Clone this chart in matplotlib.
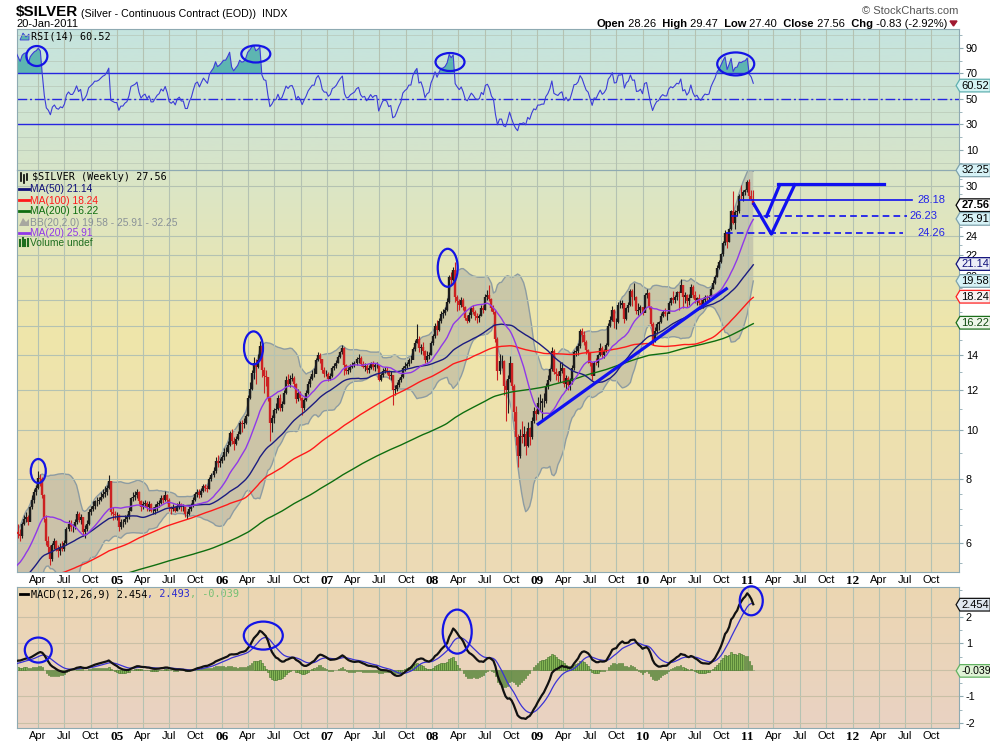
import matplotlib
matplotlib.use("Agg")
import matplotlib.pyplot as plt
import matplotlib.dates as mdates
from matplotlib.colors import LinearSegmentedColormap
from matplotlib.lines import Line2D
from matplotlib.patches import Ellipse, Polygon
from matplotlib.path import Path
from matplotlib.transforms import ScaledTranslation
import numpy as np
import pandas as pd

plt.rcParams['font.family'] = ['Liberation Sans', 'DejaVu Sans']

# weekly closes before the visible window, only used to warm up the averages
warmup_close = [
    5.05, 5.10, 5.05, 5.00, 5.05, 5.05, 5.00, 4.95, 4.95, 5.00, 5.05, 4.95, 4.95, 5.00, 5.05, 5.00, 5.05, 5.05,
    5.00, 5.00, 4.95, 4.90, 4.90, 4.95, 4.90, 4.95, 4.95, 4.90, 4.95, 4.90, 4.90, 4.85, 4.85, 4.80, 4.75, 4.75,
    4.70, 4.70, 4.70, 4.65, 4.65, 4.60, 4.60, 4.60,
    4.60, 4.65, 4.60, 4.55, 4.55, 4.50, 4.45, 4.45, 4.40, 4.40, 4.35, 4.30, 4.35, 4.35, 4.35, 4.40, 4.35, 4.45,
    4.45, 4.40, 4.40, 4.35, 4.35, 4.35, 4.30, 4.30, 4.25, 4.25, 4.20, 4.25, 4.20, 4.15, 4.20, 4.25, 4.20, 4.25,
    4.45, 4.40, 4.35, 4.30, 4.20, 4.20, 4.20, 4.15, 4.10, 4.05, 4.10, 4.15, 4.35, 4.55, 4.50, 4.55,
    4.50, 4.45, 4.40, 4.40, 4.35, 4.40, 4.45, 4.45, 4.55, 4.55, 4.60, 4.55, 4.55, 4.55, 4.60, 4.60, 4.55, 4.65,
    4.70, 4.80, 4.90, 4.95, 5.00, 4.95, 4.85, 4.90, 5.05, 5.00, 4.95, 4.70, 4.60, 4.50, 4.55, 4.55, 4.55, 4.55,
    4.50, 4.60, 4.55, 4.45, 4.40, 4.35, 4.35, 4.50, 4.55, 4.55, 4.55, 4.55, 4.65, 4.65, 4.70, 4.75,
    4.80, 4.90, 4.85, 4.85, 4.85, 4.75, 4.65, 4.60, 4.55, 4.50, 4.50, 4.40, 4.40, 4.50, 4.55, 4.55, 4.60, 4.65,
    4.75, 4.80, 4.80, 4.55, 4.50, 4.55, 4.55, 4.55, 4.75, 4.90, 5.05, 5.05, 5.05, 5.00, 5.05, 5.10, 5.10, 5.15,
    5.20, 5.15, 5.15, 4.95, 4.95, 5.00, 5.05, 5.10, 5.10, 5.20, 5.25, 5.30, 5.50, 5.65, 5.85, 5.95,
    5.95, 6.35, 6.30,
]

# visible weekly bars, first week ending 2004-01-23
week_close = [
    # 2004
    6.25, 6.20, 6.55, 6.70, 6.75, 6.60, 7.05, 7.30, 7.55, 7.70, 8.05, 8.00, 7.45, 6.70, 6.05,
    5.90, 5.60, 5.95, 6.05, 5.85, 5.80, 5.90, 5.85, 6.00, 6.40, 6.55, 6.45, 6.45, 6.60, 6.85, 6.65, 6.75,
    6.30, 6.40, 6.55, 6.90, 7.00, 7.10, 7.25, 7.25, 7.30, 7.40, 7.50, 7.55, 7.70, 7.95, 6.90, 6.85, 6.80, 6.80,
    # 2005
    6.45, 6.60, 6.60, 6.70, 6.75, 6.95, 7.35, 7.40, 7.45, 7.55, 7.25, 7.05, 7.15, 7.20, 7.05, 7.15, 6.95,
    6.95, 7.05, 7.15, 7.20, 7.35, 7.30, 7.45, 7.30, 7.05, 7.00, 7.05, 6.95, 7.10, 7.15, 7.05, 7.05, 6.85,
    6.85, 7.00, 7.10, 7.30, 7.50, 7.55, 7.45, 7.60, 7.75, 7.70, 7.65, 8.00, 8.15, 8.30, 8.70, 8.60, 8.70, 8.85,
    # 2006
    9.05, 9.05, 9.35, 9.85, 9.50, 9.40, 9.60, 9.80, 10.30, 10.25, 10.30, 10.65, 11.55, 12.05, 12.95, 13.50, 13.30,
    13.70, 14.60, 13.10, 12.75, 12.70, 11.55, 10.30, 10.55, 10.95, 11.00, 11.55, 11.05, 11.25,
    11.80, 12.50, 12.30, 12.60, 12.65, 12.30, 11.50, 11.80, 11.55, 11.05, 11.45, 11.80, 12.30,
    12.60, 12.90, 12.90, 13.70, 14.05, 13.75, 13.10, 12.90, 12.90,
    # 2007
    12.60, 12.75, 13.25, 13.35, 13.55, 13.90, 14.20, 14.45, 13.40, 13.05, 13.10, 13.30, 13.40,
    13.50, 13.75, 13.85, 13.45, 13.30, 13.35, 13.10, 13.25, 13.45, 13.30, 13.40, 13.40, 12.55,
    12.80, 13.05, 13.10, 13.05, 12.75, 12.80, 12.00, 12.05, 12.25, 12.50, 12.70, 13.20, 13.35,
    13.45, 13.70, 13.70, 14.40, 14.80, 15.10, 14.45, 14.55, 14.25, 13.70, 13.95, 14.05, 14.80,
    # 2008
    15.25, 16.00, 15.70, 16.35, 16.90, 16.95, 17.20, 17.80, 19.90, 19.70, 20.60, 18.20, 17.85,
    17.55, 17.95, 17.40, 16.55, 16.35, 16.80, 17.30, 17.05, 16.70, 16.60, 16.70, 17.35, 17.15,
    18.25, 18.40, 18.05, 17.35, 17.05, 15.10, 13.05, 13.65, 13.65, 12.20, 11.95, 12.60, 13.50,
    12.20, 10.85, 9.70, 8.90, 9.75, 9.70, 9.80, 9.30, 10.10, 9.70, 10.40, 10.90, 10.75,
    # 2009
    11.30, 11.30, 11.40, 11.40, 12.20, 12.55, 13.15, 14.30, 13.00, 12.85, 12.75, 13.05, 13.20,
    12.30, 12.65, 12.25, 12.45, 13.20, 14.20, 14.25, 14.60, 15.60, 15.35, 14.85, 14.35, 14.15,
    13.50, 12.75, 13.55, 13.50, 14.00, 14.45, 14.05, 14.25, 14.65, 16.00, 16.45, 17.15, 16.25,
    16.30, 17.60, 17.60, 17.70, 16.50, 17.30, 17.60, 18.70, 18.20, 18.25, 17.10, 17.15, 17.40,
    # 2010
    16.95, 18.40, 18.55, 17.45, 16.15, 14.95, 15.60, 16.10, 16.25, 16.75, 17.05, 16.90, 16.90,
    17.75, 18.10, 18.00, 18.25, 18.60, 18.55, 19.20, 18.20, 18.35, 17.85, 18.15, 19.05, 18.35,
    17.95, 18.10, 17.75, 17.60, 17.95, 18.20, 18.15, 18.20, 18.90, 19.40, 19.90, 20.80, 21.30,
    22.10, 23.20, 24.35, 23.35, 24.70, 26.85, 25.45, 26.70, 26.90, 28.75, 28.70, 29.25, 29.45, 30.60,
    # 2011
    28.75, 28.39, 27.56,
]

week_high = [
    6.55, 6.40, 6.60, 6.80, 6.90, 6.80, 7.10, 7.45, 7.65, 7.80, 8.30, 8.20, 8.10, 7.50, 6.80,
    6.20, 5.95, 6.00, 6.15, 6.10, 5.95, 6.00, 6.05, 6.10, 6.45, 6.65, 6.65, 6.55, 6.70, 6.95, 6.90, 6.85,
    6.75, 6.50, 6.65, 7.00, 7.10, 7.25, 7.30, 7.40, 7.40, 7.55, 7.65, 7.75, 7.80, 8.15, 7.95, 7.05, 6.95, 6.90,
    6.85, 6.70, 6.70, 6.80, 6.85, 7.05, 7.40, 7.55, 7.60, 7.65, 7.60, 7.30, 7.25, 7.30, 7.25, 7.25, 7.20,
    7.05, 7.15, 7.25, 7.30, 7.45, 7.45, 7.60, 7.50, 7.35, 7.10, 7.15, 7.10, 7.20, 7.25, 7.20, 7.15, 7.05,
    6.95, 7.10, 7.20, 7.40, 7.55, 7.65, 7.65, 7.70, 7.85, 7.85, 7.80, 8.10, 8.25, 8.45, 8.85, 8.95, 8.80, 8.95,
    9.20, 9.25, 9.50, 9.95, 10.05, 9.70, 9.75, 9.95, 10.40, 10.45, 10.55, 10.75, 11.70, 12.40, 13.10, 13.90, 13.80,
    14.10, 14.95, 14.60, 13.30, 13.10, 12.70, 11.60, 10.70, 11.05, 11.30, 11.70, 11.75, 11.40,
    11.95, 12.75, 12.90, 12.80, 12.95, 12.75, 12.35, 12.05, 11.90, 11.60, 11.55, 11.95, 12.45,
    12.75, 13.10, 13.25, 13.85, 14.20, 14.15, 13.80, 13.30, 13.10,
    13.00, 12.95, 13.35, 13.50, 13.70, 14.05, 14.30, 14.65, 14.55, 13.45, 13.30, 13.45, 13.60,
    13.65, 13.90, 14.10, 13.95, 13.65, 13.50, 13.45, 13.40, 13.60, 13.65, 13.55, 13.60, 13.40,
    12.95, 13.20, 13.30, 13.30, 13.10, 13.05, 12.80, 12.25, 12.40, 12.65, 12.90, 13.35, 13.60,
    13.60, 13.85, 14.00, 14.55, 15.00, 16.10, 15.30, 14.75, 14.90, 14.35, 14.30, 14.20, 14.95,
    15.40, 16.20, 16.40, 16.55, 17.10, 17.25, 17.40, 18.10, 20.10, 20.35, 20.85, 21.35, 18.40,
    18.05, 18.20, 18.10, 17.50, 16.80, 17.00, 17.45, 17.55, 17.15, 16.95, 16.90, 17.55, 17.60,
    18.50, 18.80, 19.25, 18.15, 17.60, 17.15, 15.20, 14.10, 14.00, 13.70, 12.50, 12.80, 13.95,
    13.55, 12.30, 11.15, 9.80, 10.05, 10.40, 10.20, 9.95, 10.35, 10.15, 10.60, 11.10, 11.00,
    11.60, 11.75, 11.55, 11.80, 12.35, 12.80, 13.25, 14.55, 14.40, 13.25, 13.05, 13.60, 13.60,
    13.20, 12.80, 12.75, 12.65, 13.40, 14.35, 14.60, 14.80, 15.75, 15.85, 15.60, 15.00, 14.40,
    14.20, 13.55, 13.65, 13.85, 14.10, 14.80, 14.60, 14.40, 14.80, 16.20, 16.70, 17.50, 17.25,
    16.55, 17.80, 18.00, 18.00, 17.75, 17.45, 17.80, 18.85, 18.90, 19.40, 18.30, 17.75, 17.55,
    17.45, 18.55, 18.85, 18.60, 17.50, 16.30, 15.90, 16.30, 16.35, 16.95, 17.20, 17.30, 17.05,
    17.90, 18.25, 18.70, 18.40, 18.75, 18.70, 19.80, 19.25, 18.60, 18.45, 18.45, 19.30, 19.20,
    18.70, 18.25, 18.45, 18.05, 18.10, 18.40, 18.35, 18.40, 19.05, 19.70, 20.10, 21.00, 21.50,
    22.25, 23.40, 24.60, 24.45, 24.90, 27.00, 29.35, 27.00, 27.60, 28.95, 30.20, 29.45, 29.70, 30.90,
    31.00, 29.45, 29.47,
]

week_low = [
    6.15, 6.05, 6.15, 6.50, 6.60, 6.50, 6.65, 7.00, 7.20, 7.45, 7.65, 7.75, 7.35, 6.60, 5.95,
    5.75, 5.45, 5.55, 5.85, 5.80, 5.65, 5.70, 5.80, 5.80, 5.95, 6.35, 6.35, 6.30, 6.40, 6.55, 6.60, 6.55,
    6.20, 6.15, 6.35, 6.50, 6.80, 6.95, 7.00, 7.10, 7.15, 7.25, 7.35, 7.40, 7.45, 7.65, 6.80, 6.65, 6.70, 6.65,
    6.35, 6.40, 6.45, 6.55, 6.60, 6.70, 6.95, 7.25, 7.30, 7.35, 7.15, 6.95, 7.00, 7.05, 6.95, 6.95, 6.90,
    6.85, 6.85, 6.95, 7.05, 7.15, 7.20, 7.25, 7.20, 6.95, 6.85, 6.95, 6.90, 6.95, 7.00, 6.95, 6.95, 6.75,
    6.70, 6.80, 6.95, 7.05, 7.25, 7.40, 7.35, 7.40, 7.55, 7.60, 7.55, 7.65, 7.95, 8.10, 8.25, 8.45, 8.45, 8.60,
    8.75, 8.90, 9.00, 9.30, 9.40, 9.15, 9.35, 9.55, 9.80, 9.90, 10.10, 10.25, 10.65, 11.50, 12.00, 12.60, 12.30,
    13.20, 13.80, 12.70, 11.80, 12.20, 11.40, 9.50, 9.90, 10.30, 10.80, 10.95, 10.90, 10.90,
    11.25, 11.75, 12.20, 12.15, 12.45, 12.10, 11.30, 11.40, 11.45, 10.70, 10.95, 11.40, 11.75,
    12.15, 12.55, 12.70, 12.95, 13.65, 13.55, 12.95, 12.70, 12.75,
    12.45, 12.50, 12.70, 13.10, 13.25, 13.50, 13.85, 14.10, 12.80, 12.85, 12.85, 13.00, 13.20,
    13.30, 13.40, 13.55, 13.35, 13.20, 13.05, 12.95, 12.95, 13.15, 13.10, 13.05, 13.20, 12.45,
    12.45, 12.70, 12.95, 12.85, 12.60, 12.55, 11.20, 11.70, 11.90, 12.15, 12.40, 12.65, 13.05,
    13.20, 13.35, 13.50, 13.75, 14.30, 14.80, 14.20, 14.10, 14.05, 13.55, 13.60, 13.75, 14.05,
    14.70, 15.15, 15.35, 15.60, 16.20, 16.55, 16.80, 17.10, 17.75, 19.20, 19.60, 17.80, 17.10,
    17.20, 17.40, 17.20, 16.40, 16.20, 16.25, 16.60, 16.90, 16.45, 16.20, 16.30, 16.70, 16.95,
    17.20, 17.95, 17.85, 17.10, 16.85, 14.90, 12.50, 12.85, 13.25, 11.70, 10.40, 10.80, 12.40,
    11.95, 10.40, 9.35, 8.45, 8.80, 9.45, 9.30, 8.95, 9.25, 9.35, 9.60, 10.30, 10.45,
    10.75, 10.90, 10.45, 11.10, 11.30, 12.05, 12.45, 13.05, 12.85, 12.55, 12.40, 12.40, 12.95,
    12.15, 12.00, 11.95, 12.00, 12.30, 13.10, 13.95, 14.00, 14.50, 14.90, 14.70, 14.10, 13.55,
    13.35, 12.50, 12.80, 13.40, 13.30, 13.95, 13.85, 13.85, 14.20, 14.60, 15.90, 16.35, 15.85,
    15.80, 16.20, 17.35, 17.35, 16.20, 16.40, 17.00, 17.50, 17.50, 18.00, 16.90, 16.80, 16.95,
    16.80, 17.00, 18.10, 17.25, 16.00, 14.65, 14.85, 15.40, 15.70, 16.20, 16.65, 16.75, 16.45,
    16.95, 17.60, 17.75, 17.70, 18.00, 17.20, 18.65, 17.30, 17.70, 17.40, 17.60, 18.20, 18.10,
    17.75, 17.60, 17.55, 17.35, 17.35, 17.80, 17.75, 17.85, 18.30, 18.90, 19.35, 19.90, 20.65,
    21.20, 21.95, 23.05, 22.70, 23.30, 24.60, 25.30, 24.80, 26.30, 26.60, 28.40, 28.10, 28.90, 29.30,
    28.30, 28.20, 27.40,
]

# quarter labels along the time axis
quarter_starts = pd.date_range('2004-04-01', '2012-10-01', freq='QS')

# hand drawn marks of the analyst: (date, value, width px, height px)
rsi_rings = [('2004-03-28', 83.7, 21, 20), ('2006-04-28', 85.3, 29, 17),
             ('2008-03-03', 79.0, 29, 18), ('2010-11-21', 77.5, 37, 23)]
price_rings = [('2004-04-02', 8.31, 15, 24), ('2006-04-20', 14.48, 19, 33), ('2008-02-24', 20.78, 20, 38)]
macd_rings = [('2004-04-02', 0.745, 27, 25), ('2006-05-24', 1.29, 39, 28),
              ('2008-03-28', 1.44, 29, 44), ('2011-01-14', 2.60, 23, 29)]
trend_dates = ['2008-12-30', '2010-10-24']
trend_values = [10.23, 18.98]
path_a_dates = ['2011-01-23', '2011-03-25', '2011-06-14']
path_a_values = [27.70, 24.19, 30.22]
path_b_dates = ['2011-03-08', '2011-04-23']
path_b_values = [26.19, 30.22]
top_dates = ['2011-04-16', '2012-04-19']
top_values = [30.3, 30.3]
levels = [(28.18, '2010-12-05', '2012-07-25', '-', '2012-08-12'),
          (26.23, '2010-11-05', '2012-07-08', '--', '2012-07-18'),
          (24.26, '2010-10-19', '2012-06-24', '--', '2012-08-12')]

# ------------------------------------------------------------------ indicators
closes = pd.Series(warmup_close + week_close, dtype=float)
n_warm = len(warmup_close)
dates = list(pd.date_range(end='2004-01-16', periods=n_warm, freq='W-FRI')) + \
    list(pd.date_range('2004-01-23', periods=len(week_close), freq='W-FRI'))
xs = mdates.date2num(pd.DatetimeIndex(dates).to_pydatetime())

ma20 = closes.rolling(20).mean()
ma50 = closes.rolling(50).mean()
ma100 = closes.rolling(100).mean()
ma200 = closes.rolling(200).mean()
sd20 = closes.rolling(20).std(ddof=0)
bb_up = ma20 + 2 * sd20
bb_lo = ma20 - 2 * sd20

delta = closes.diff()
gain = delta.clip(lower=0).ewm(alpha=1 / 14, adjust=False).mean()
loss = (-delta.clip(upper=0)).ewm(alpha=1 / 14, adjust=False).mean()
rsi = 100 - 100 / (1 + gain / loss)

macd = closes.ewm(span=12, adjust=False).mean() - closes.ewm(span=26, adjust=False).mean()
signal = macd.ewm(span=9, adjust=False).mean()
hist = macd - signal

# ------------------------------------------------------------------ figure
W, H = 990, 744
fig = plt.figure(figsize=(9.9, 7.44), dpi=100)


def fx(px):
    return px / W


def fy(py):
    return 1 - py / H


def panel(l, t, r, b, colors):
    rect = [l / W, 1 - b / H, (r - l) / W, (b - t) / H]
    bg = fig.add_axes(rect, zorder=0)
    bg.imshow(np.linspace(0, 1, 256).reshape(-1, 1), aspect='auto',
              cmap=LinearSegmentedColormap.from_list('', colors), extent=[0, 1, 0, 1])
    bg.axis('off')
    a = fig.add_axes(rect, zorder=1)
    a.set_facecolor('none')
    for s in a.spines.values():
        s.set_color('#8eaab2')
    return a


ax_rsi = panel(17, 29, 959, 170, [(0, '#c5e4df'), (1, '#d7e4c9')])
ax = panel(17, 170, 959, 572, [(0, '#d9e5c8'), (0.4, '#efe6aa'), (1, '#ecdab6')])
ax_macd = panel(17, 587, 959, 728, [(0, '#ecd7b2'), (1, '#e9d2c3')])

x_left = mdates.date2num(pd.Timestamp('2004-01-19'))
x_right = mdates.date2num(pd.Timestamp('2013-01-05'))
qx = mdates.date2num(quarter_starts.to_pydatetime())
qlab = [f"{d.year % 100:02d}" if d.month == 1 else d.strftime('%b') for d in quarter_starts]
grid_col = '#b4c2b2'

for a in (ax_rsi, ax, ax_macd):
    a.set_xlim(x_left, x_right)
    a.set_xticks(qx, qlab)
    a.yaxis.tick_right()
    a.tick_params(axis='x', length=0, pad=2, labelsize=8)
    a.tick_params(axis='y', which='both', direction='out', colors='#8eaab2',
                  labelcolor='black', labelsize=7.8, pad=2)
    a.tick_params(axis='y', which='major', length=3)
    a.tick_params(axis='y', which='minor', length=2)
    a.grid(True, axis='x', color=grid_col, lw=0.8)
    for lbl in a.get_xticklabels():
        if lbl.get_text().isdigit():
            lbl.set_fontfamily('Liberation Serif')
            lbl.set_fontweight('bold')
            lbl.set_fontsize(9.5)
ax_rsi.tick_params(axis='x', labelbottom=False)


def ring(a, when, value, w, h):
    tr = fig.dpi_scale_trans + ScaledTranslation(mdates.date2num(pd.Timestamp(when)), value, a.transData)
    a.add_artist(Ellipse((0, 0), w / 100, h / 100, transform=tr, fill=False,
                         ec='#1414e6', lw=1.6, clip_on=False, zorder=8))


def tag_shape(x0, y0, width, height, mutation_size):
    pad = 0.12 * mutation_size
    x0, y0 = x0 - pad, y0 - pad
    x1, y1 = x0 + width + 2 * pad, y0 + height + 2 * pad
    tip = x0 - 0.3 * (y1 - y0)
    ym = 0.5 * (y0 + y1)
    return Path([(tip, ym), (x0, y1), (x1, y1), (x1, y0), (x0, y0), (tip, ym)], closed=True)


def tag(a, value, text, fc, ec, tc='black', bold=False, size=8):
    a.annotate(text, xy=(1, value), xycoords=('axes fraction', 'data'), xytext=(1.6, 0),
               textcoords='offset points', va='center', ha='left', fontsize=size, color=tc,
               fontweight='bold' if bold else 'normal', annotation_clip=False, zorder=9,
               bbox=dict(boxstyle=tag_shape, fc=fc, ec=ec, lw=0.9))


# ------------------------------------------------------------------ RSI panel
ax_rsi.set_ylim(-5.7, 104.9)
ax_rsi.set_yticks([10, 30, 50, 70, 90], ['10', '30', '50', '70', '90'])
ax_rsi.set_yticks([0, 20, 40, 60, 80, 100], minor=True)
ax_rsi.grid(True, axis='y', which='both', color=grid_col, lw=0.6, alpha=0.7)
ax_rsi.fill_between(xs, 70, rsi, where=rsi >= 70, interpolate=True, color='#5db5b1', lw=0, zorder=2)
ax_rsi.plot(xs, rsi, color='#3c3cd8', lw=0.8, zorder=3)
ax_rsi.axhline(70, color='#2626e0', lw=1.0, zorder=2)
ax_rsi.axhline(30, color='#2626e0', lw=1.0, zorder=2)
ax_rsi.axhline(50, color='#2626e0', lw=1.0, ls=(0, (7, 2, 1.5, 2)), zorder=2)
for r in rsi_rings:
    ring(ax_rsi, *r)
tag(ax_rsi, 60.52, '60.52', '#d4f3f3', '#5fb0b0')

# ------------------------------------------------------------------ price panel
ax.set_yscale('log')
ax.set_ylim(5.27, 32.3)
major = [6, 8, 10, 12, 14, 16, 18, 20, 22, 24, 30]
hidden_by_tags = (16, 18)
ax.set_yticks(major, ['' if v in hidden_by_tags else str(v) for v in major])
ax.set_yticks([5.5, 6.5, 7, 7.5, 9, 11, 13, 15, 17, 19, 21, 23, 25, 26, 27, 28, 29, 31, 32],
              minor=True)
ax.yaxis.set_minor_formatter(plt.NullFormatter())
ax.grid(True, axis='y', which='major', color=grid_col, lw=0.8)

ax.fill_between(xs, bb_lo, bb_up, color='#a4a49e', alpha=0.45, lw=0, zorder=1)
ax.plot(xs, bb_up, color='#8d9ca2', lw=1.0, zorder=1.5)
ax.plot(xs, bb_lo, color='#8d9ca2', lw=1.0, zorder=1.5)

opens = closes.shift(1)
down = (closes < opens).to_numpy()
cols = np.where(down, '#cc2222', '#1c1c1c')
lows = np.r_[np.full(n_warm, np.nan), week_low]
highs = np.r_[np.full(n_warm, np.nan), week_high]
ax.vlines(xs, lows, highs, colors=cols, lw=0.8, zorder=3)
ax.vlines(xs, np.minimum(opens, closes), np.maximum(opens, closes), colors=cols, lw=1.7, zorder=3)

ax.plot(xs, ma200, color='#0f6e0f', lw=1.0, zorder=4)
ax.plot(xs, ma100, color='#ff1a1a', lw=1.0, zorder=4)
ax.plot(xs, ma50, color='#1c1c80', lw=1.0, zorder=4)
ax.plot(xs, ma20, color='#9038e8', lw=1.0, zorder=4)

blue = '#1010f0'
ax.plot(mdates.date2num(pd.to_datetime(trend_dates)), trend_values, color=blue, lw=2.3,
        solid_capstyle='butt', zorder=6)
for dts, vals in ((path_a_dates, path_a_values), (path_b_dates, path_b_values), (top_dates, top_values)):
    ax.plot(mdates.date2num(pd.to_datetime(dts)), vals, color=blue, lw=2.3, zorder=6, clip_on=False)
for value, start, end, style, text_at in levels:
    ax.plot(mdates.date2num(pd.to_datetime([start, end])), [value, value], color=blue,
            lw=1.2, ls=style if style == '-' else (0, (4, 2.5)), zorder=6)
    ax.text(mdates.date2num(pd.Timestamp(text_at)), value, f'{value:.2f}', color='#2323e8',
            fontsize=8, va='center', ha='left', zorder=6)
for r in price_rings:
    ring(ax, *r)

tag(ax, 32.25, '32.25', '#d6f2f6', '#7ea2ac')
tag(ax, 27.56, '27.56', 'white', 'black', bold=True)
tag(ax, 25.91, '25.91', '#d6f2f6', '#7ea2ac')
tag(ax, 21.14, '21.14', '#eceef8', '#10107a', tc='#10107a')
tag(ax, 19.58, '19.58', '#d6f2f6', '#7ea2ac')
tag(ax, 18.24, '18.24', '#f8f0f0', '#ff2020')
tag(ax, 16.22, '16.22', '#eef6ea', '#1a6e1a', tc='#124a12')

# ------------------------------------------------------------------ MACD panel
ax_macd.set_ylim(-2.19, 3.12)
ax_macd.set_yticks([-2, -1, 0, 1, 2], ['-2', '-1', '', '1', '2'])
ax_macd.set_yticks([-1.5, -0.5, 0.5, 1.5, 2.5, 3], minor=True)
ax_macd.grid(True, axis='y', which='major', color='#c9c0a6', lw=0.8)
ax_macd.bar(xs, hist, width=5, color='#84b454', edgecolor='#3f6f27', lw=0.4, zorder=2)
ax_macd.plot(xs, signal, color='#3a32d6', lw=0.9, zorder=3)
ax_macd.plot(xs, macd, color='#111111', lw=1.6, zorder=4)
for r in macd_rings:
    ring(ax_macd, *r)
tag(ax_macd, 2.454, '2.454', '#dfe7ef', '#111111')
tag(ax_macd, -0.039, '-0.039', '#dff3d6', '#62b262', size=7.6)

# ------------------------------------------------------------------ texts


def chain(x_px, y_px, pieces):
    first_s, first_kw = pieces[0]
    prev = fig.text(fx(x_px), fy(y_px), first_s, va='baseline', ha='left', **first_kw)
    for s, kw in pieces[1:]:
        prev = ax_rsi.annotate(s, xy=(1, 0), xycoords=prev, va='bottom', ha='left',
                               annotation_clip=False, **kw)
    return prev


chain(16, 16, [('$SILVER', dict(fontsize=11, fontweight='bold')),
               (' (Silver - Continuous Contract (EOD))  INDX', dict(fontsize=7.7))])
fig.text(fx(16), fy(27), '20-Jan-2011', fontsize=8, va='baseline')
fig.text(fx(958), fy(14), '\u00a9 StockCharts.com', fontsize=8, color='#555555', ha='right', va='baseline')

# header pieces, drawn from the right edge leftwards
hdr = [('Open', True), (' 28.26', False), ('  High', True), (' 29.47', False), ('  Low', True),
       (' 27.40', False), ('  Close', True), (' 27.56', False), ('  Chg', True), (' -0.83 (-2.92%)', False)]
prev = fig.text(fx(947), fy(27), hdr[-1][0], fontsize=8, ha='right', va='baseline')
for s, bold in reversed(hdr[:-1]):
    prev = ax_rsi.annotate(s, xy=(0, 0), xycoords=prev, va='bottom', ha='right', fontsize=8,
                           fontweight='bold' if bold else 'normal', annotation_clip=False)
fig.add_artist(Polygon([[fx(950), fy(21)], [fx(957), fy(21)], [fx(953.5), fy(26)]], closed=True,
                       color='#a01830', transform=fig.transFigure))

mono = dict(fontfamily='DejaVu Sans Mono', fontsize=7.3)
fig.text(fx(31), fy(39.5), 'RSI(14) 60.52', va='baseline', **mono)
fig.add_artist(Polygon([[fx(20), fy(40)], [fx(23), fy(33)], [fx(26), fy(37)], [fx(29), fy(34)], [fx(29), fy(40)]],
                       closed=True, fc='#5db5b1', ec='#3c3cd8', lw=0.6, transform=fig.transFigure))

fig.text(fx(32), fy(180.5), '$SILVER (Weekly) 27.56', va='baseline', **mono)
for xp, y0, y1 in ((21, 173, 181), (24, 175, 183), (27, 174, 180)):
    fig.add_artist(Line2D([fx(xp), fx(xp)], [fy(y0), fy(y1)], color='black', lw=1.2))

legend_rows = [(189, 'MA(50) 21.14', '#10107a'), (200, 'MA(100) 18.24', '#ff1a1a'),
               (211, 'MA(200) 16.22', '#0f6e0f'), (222, 'BB(20,2.0) 19.58 - 25.91 - 32.25', '#8a9298'),
               (233, 'MA(20) 25.91', '#9038e8'), (243, 'Volume undef', '#1f6e1f')]
for yp, text, col in legend_rows:
    fig.text(fx(29.5), fy(yp + 3.5), text, color=col, fontsize=7.4, va='baseline')
    if text.startswith('MA'):
        fig.add_artist(Line2D([fx(19), fx(28.5)], [fy(yp)] * 2, color=col, lw=2.0))
fig.add_artist(Polygon([[fx(19), fy(226)], [fx(23), fy(218)], [fx(26), fy(222)], [fx(29), fy(219)], [fx(29), fy(226)]],
                       closed=True, fc='#a7a7a0', ec='none', transform=fig.transFigure))
for xp, top in ((20, 240), (22.5, 238), (25, 240), (27.5, 239)):
    fig.add_artist(Line2D([fx(xp), fx(xp)], [fy(246), fy(top)], color='#1f6e1f', lw=1.5))

fig.add_artist(Line2D([fx(20), fx(28)], [fy(594)] * 2, color='black', lw=2.0))
chain(31, 597.5, [('MACD(12,26,9) 2.454', dict(color='black', **mono)),
                  (', 2.493', dict(color='#2a2ad0', **mono)),
                  (', -0.039', dict(color='#74c074', **mono))])

fig.savefig('out.png', dpi=100)
